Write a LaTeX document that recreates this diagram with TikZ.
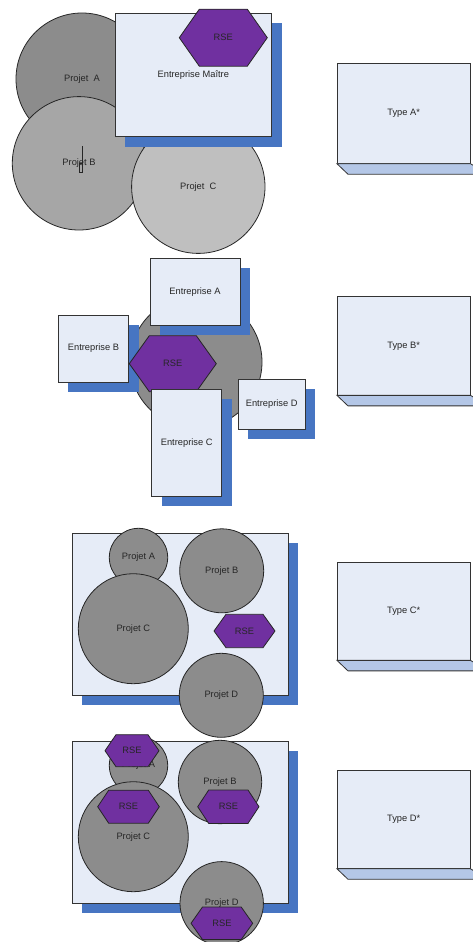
\documentclass[tikz,border=0pt]{standalone}
\usepackage{fontspec}
\setmainfont{Liberation Sans}
\usetikzlibrary{shadows}
\definecolor{firmfill}{HTML}{E6ECF7}
\definecolor{firmshadow}{HTML}{4775C2}
\definecolor{rsepurple}{HTML}{7030A0}
\definecolor{typeground}{HTML}{B4C7E7}

\begin{document}
\begin{tikzpicture}[
x = 1pt, y = -1pt,
fontnode/.style={font=\fontsize{9.3}{10}\selectfont, text=black!85},
projet/.style={circle, draw=black!85, line width=.8pt, fill=black!45, inner sep=0pt, fontnode},
firm/.style={rectangle, draw=black!80, line width=.8pt, fill=firmfill, inner sep=0pt, fontnode,
    drop shadow={shadow xshift=10pt, shadow yshift=-10pt, fill=firmshadow, opacity=1}},
rse/.style={draw=black!85, line width=.8pt, fill=rsepurple},
typebox/.style={rectangle, draw=black!80, line width=.8pt, fill=firmfill, inner sep=0pt, minimum width=132.7pt, fontnode},
typebottom/.style={draw=black!80, line width=.8pt, fill=typeground}
]

\useasboundingbox (0,0) rectangle (472,942);

%%%% TYPE A

\node[projet, minimum size=132pt](PA1) at (82,79){Projet\ \ A};
\node[projet, fill=black!35, minimum size=133.4pt](PB1) at (79,163.3){Projet B};
\draw[black!85] (81.7,146)--(81.7,171.7) (78.7,163.3) rectangle (82,171.7);
\node[projet, fill=black!25, minimum size=133.4pt](PC1) at (198.3,186.7){Projet\ \ C};
\node[firm, minimum width=156.7pt, minimum height=123.4pt](EM) at (193.3,75){Entreprise Maître};
\draw[rse] (179.3,37.7)--++(20,-28.5)--++(48,0)--++(20,28.5)--++(-20,28.5)--++(-48,0)--cycle;
\node[fontnode](RSE1) at (223.3,37.7){RSE};

\node[typebox, minimum height=100pt](TA) at (403.7,113.3){Type A*};
\draw[typebottom] (TA.south west)--++(11,10.5)--++(140,0)--(TA.south east)--cycle;

%%%% TYPE B

\node[projet, minimum size=132pt](P2) at (196,362){};
\node[firm, minimum width=90pt, minimum height=67pt](EA) at (195,291.8){Entreprise A};
\node[firm, minimum width=70.4pt, minimum height=67pt](EB) at (93.5,348.5){Entreprise B};
\draw[rse] (129.3,363.7)--++(20,-28)--++(47,0)--++(20,28)--++(-20,28)--++(-47,0)--cycle;
\node[fontnode](RSE2) at (172.8,363.7){RSE};
\node[firm, minimum width=70pt, minimum height=106.7pt](EC) at (186.7,442.7){Entreprise C};
\node[firm, minimum width=66.7pt, minimum height=50pt](ED) at (271.7,404.3){Entreprise D};

\node[typebox, minimum height=98.3pt](TB) at (403.7,345.8){Type B*};
\draw[typebottom] (TB.south west)--++(11,10.5)--++(140,0)--(TB.south east)--cycle;

%%%% TYPE C

\node[firm, minimum width=216pt, minimum height=161.7pt](G3) at (180.3,614.2){};
\node[projet, minimum size=58.4pt](PA3) at (138.5,557.5){Projet A};
\node[projet, minimum size=84pt](PB3) at (221.7,570.8){Projet B};
\node[projet, minimum size=110pt](PC3) at (133.3,628.7){Projet C};
\draw[rse] (214,631)--++(12,-16.7)--++(37,0)--++(12,16.7)--++(-12,16.7)--++(-37,0)--cycle;
\node[fontnode](RSE3) at (244.5,631){RSE};
\node[projet, minimum size=84pt](PD3) at (221.3,695.3){Projet D};

\node[typebox, minimum height=97.3pt](TC) at (403.7,611.3){Type C*};
\draw[typebottom] (TC.south west)--++(11,10.5)--++(140,0)--(TC.south east)--cycle;

%%%% TYPE D

\node[firm, minimum width=216pt, minimum height=162.3pt](G4) at (180.3,822.2){};
\node[projet, minimum size=58.4pt](PA4) at (138.5,765.5){Projet A};
\draw[rse] (105,750.7)--++(11,-16)--++(32,0)--++(11,16)--++(-11,16)--++(-32,0)--cycle;
\node[fontnode](RSE4a) at (132,750.7){RSE};
\node[projet, minimum size=83.4pt](PB4) at (220,782){Projet B};
\node[projet, minimum size=110pt](PC4) at (133.3,836.7){Projet C};
\draw[rse] (97.7,806.7)--++(11,-16.5)--++(39.6,0)--++(11,16.5)--++(-11,16.5)--++(-39.6,0)--cycle;
\node[fontnode](RSE4c) at (128.5,806.7){RSE};
\draw[rse] (197.7,806.7)--++(11,-16.7)--++(39.3,0)--++(11,16.7)--++(-11,16.7)--++(-39.3,0)--cycle;
\node[fontnode](RSE4b) at (228.4,806.7){RSE};
\node[projet, minimum size=83.4pt](PD4) at (221.7,903.3){Projet D};
\draw[rse] (191,923.3)--++(11.5,-16.3)--++(38.7,0)--++(11.5,16.3)--++(-11.5,16.3)--++(-38.7,0)--cycle;
\node[fontnode](RSE4d) at (221.9,923.3){RSE};

\node[typebox, minimum height=98.3pt](TD) at (403.7,819.2){Type D*};
\draw[typebottom] (TD.south west)--++(11,10.5)--++(140,0)--(TD.south east)--cycle;

\end{tikzpicture}
\end{document}
